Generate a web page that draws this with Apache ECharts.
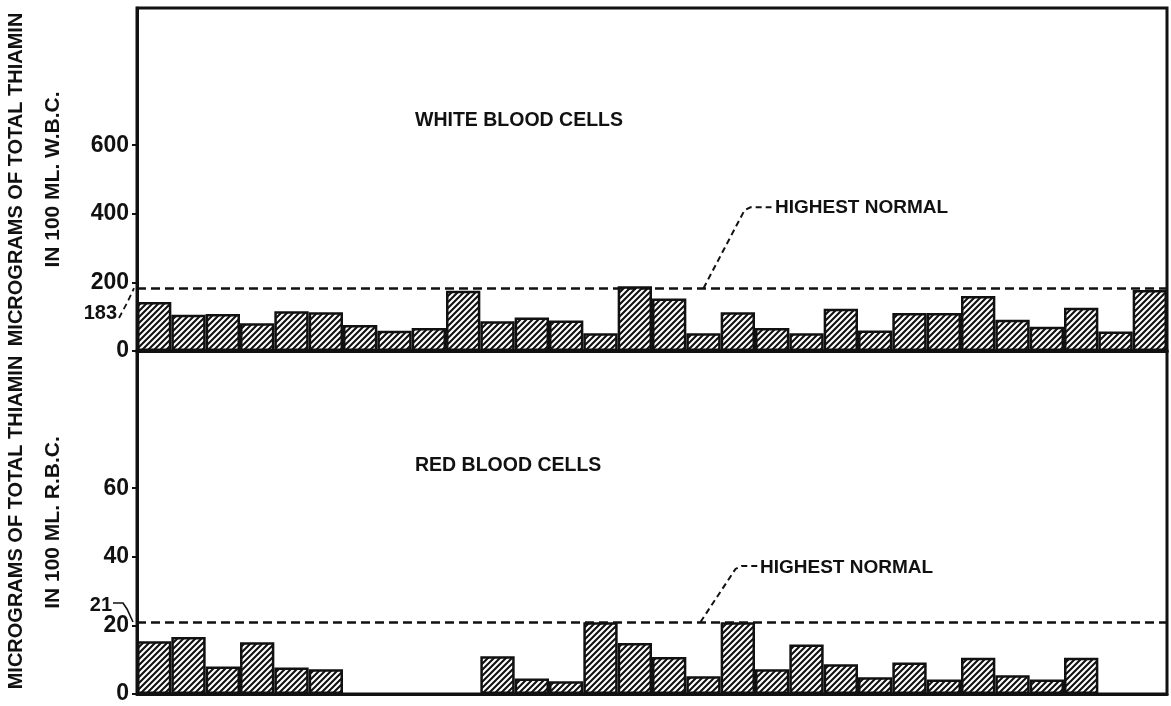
<!DOCTYPE html>
<html>
<head>
<meta charset="utf-8">
<title>Total thiamin in white and red blood cells</title>
<script src="https://cdn.jsdelivr.net/npm/echarts@6/dist/echarts.min.js"></script>
<style>
  html, body { margin: 0; padding: 0; background: #fff; }
  #chart { width: 1171px; height: 706px; }
</style>
</head>
<body>
<div id="chart"></div>
<script>
// one bar per subject, left to right
const subjects = ['1', '2', '3', '4', '5', '6', '7', '8', '9', '10',
  '11', '12', '13', '14', '15', '16', '17', '18', '19', '20',
  '21', '22', '23', '24', '25', '26', '27', '28', '29', '30']

// micrograms of total thiamin in 100 ml W.B.C.
const wbcValues = [143, 106, 108, 81, 116, 113, 76, 59, 67, 176,
  87, 98, 89, 52, 189, 153, 52, 113, 67, 52,
  123, 60, 111, 111, 160, 91, 71, 126, 57, 178]

// micrograms of total thiamin in 100 ml R.B.C. (null = not measured)
const rbcValues = [15.4, 16.6, 8.0, 15.1, 7.7, 7.2, null, null, null, null,
  11.0, 4.5, 3.7, 20.9, 14.9, 10.8, 5.2, 20.9, 7.2, 14.4,
  8.7, 4.9, 9.2, 4.2, 10.6, 5.5, 4.2, 10.6, null, null]

const wbcTicks = [0, 200, 400, 600]
const rbcTicks = [0, 20, 40, 60]
const wbcNormal = 183
const rbcNormal = 21

const ink = '#111'
const font = '"Liberation Sans", Arial, sans-serif'

// diagonal hatching like the printed bars
const hatch = document.createElement('canvas')
hatch.width = 6
hatch.height = 6
const hctx = hatch.getContext('2d')
hctx.fillStyle = '#fff'
hctx.fillRect(0, 0, 6, 6)
hctx.strokeStyle = ink
hctx.lineWidth = 2.1
hctx.beginPath()
hctx.moveTo(0, 6); hctx.lineTo(6, 0)
hctx.moveTo(-3, 3); hctx.lineTo(3, -3)
hctx.moveTo(3, 9); hctx.lineTo(9, 3)
hctx.stroke()

const gridTop = { left: 137, width: 1030, top: 8, height: 343 }
const gridBottom = { left: 137, width: 1030, top: 351, height: 343 }

const xAxisBase = {
  type: 'category',
  data: subjects,
  axisLine: { show: true, lineStyle: { color: ink, width: 3 } },
  axisTick: { show: false },
  axisLabel: { show: false }
}

const yAxisBase = (ticks, max, outer, inner) => ({
  type: 'value',
  min: 0,
  max: max,
  name: '{a|' + outer + '}\n{b|' + inner + '}',
  nameLocation: 'middle',
  nameGap: 65,
  nameTextStyle: {
    rich: {
      a: { fontSize: 20, fontWeight: 'bold', fontFamily: font, color: ink, lineHeight: 37 },
      b: { fontSize: 21, fontWeight: 'bold', fontFamily: font, color: ink, lineHeight: 37 }
    }
  },
  axisLine: { show: true, lineStyle: { color: ink, width: 3 } },
  axisTick: { show: true, length: 5, customValues: ticks, lineStyle: { color: ink, width: 2 } },
  axisLabel: {
    customValues: ticks,
    margin: 8,
    color: ink,
    fontSize: 23,
    fontWeight: 'bold',
    fontFamily: font
  },
  splitLine: { show: false }
})

const barSeries = (values, axisIndex, normal) => ({
  type: 'bar',
  xAxisIndex: axisIndex,
  yAxisIndex: axisIndex,
  data: values,
  barCategoryGap: '0%',
  silent: true,
  itemStyle: {
    color: { image: hatch, repeat: 'repeat' },
    borderColor: ink,
    borderWidth: 2.5
  },
  markLine: {
    silent: true,
    symbol: ['none', 'none'],
    label: { show: false },
    lineStyle: { color: ink, type: [9, 5], width: 2.5 },
    data: [{ yAxis: normal }]
  }
})

const gridStyle = { show: true, borderColor: ink, borderWidth: 3, containLabel: false, outerBoundsMode: 'none' }

const chart = echarts.init(document.getElementById('chart'))
chart.setOption({
  backgroundColor: '#fff',
  animation: false,
  grid: [
    Object.assign({}, gridStyle, gridTop),
    Object.assign({}, gridStyle, gridBottom)
  ],
  xAxis: [
    Object.assign({ gridIndex: 0 }, xAxisBase),
    Object.assign({ gridIndex: 1 }, xAxisBase)
  ],
  yAxis: [
    Object.assign({ gridIndex: 0 }, yAxisBase(wbcTicks, 1000, 'MICROGRAMS OF TOTAL THIAMIN', 'IN 100 ML. W.B.C.')),
    Object.assign({ gridIndex: 1 }, yAxisBase(rbcTicks, 100, 'MICROGRAMS OF TOTAL THIAMIN', 'IN 100 ML. R.B.C.'))
  ],
  series: [
    barSeries(wbcValues, 0, wbcNormal),
    barSeries(rbcValues, 1, rbcNormal)
  ]
})

// annotations anchored on the axes
const yW = chart.convertToPixel({ yAxisIndex: 0 }, wbcNormal)
const yR = chart.convertToPixel({ yAxisIndex: 1 }, rbcNormal)
const xW = chart.convertToPixel({ xAxisIndex: 0 }, subjects[16])
const xR = chart.convertToPixel({ xAxisIndex: 1 }, subjects[16]) - 3

const label = (text, x, y, size, align) => ({
  type: 'text',
  silent: true,
  style: {
    text: text, x: x, y: y,
    align: align || 'left', verticalAlign: 'middle',
    font: 'bold ' + size + 'px ' + font,
    fill: ink
  }
})

const dashed = (points, width) => ({
  type: 'polyline',
  silent: true,
  shape: { points: points },
  style: { stroke: ink, lineWidth: width || 2, lineDash: [6, 4], fill: null }
})

chart.setOption({
  graphic: [
    label('WHITE BLOOD CELLS', 415, 121, 19.5),
    label('RED BLOOD CELLS', 415, 466, 19.5),
    label('HIGHEST NORMAL', 775, 208, 19),
    label('HIGHEST NORMAL', 760, 568, 19),
    dashed([[xW, yW], [xW + 41, yW - 78], [xW + 47, yW - 81], [xW + 68, yW - 81]]),
    dashed([[xR, yR], [xR + 35, yR - 53], [xR + 41, yR - 56], [xR + 57, yR - 56]]),
    label('183', 117, 313, 20, 'right'),
    dashed([[119, 318], [127, 303], [134, yW]], 1.8),
    label('21', 112, 605, 20, 'right'),
    {
      type: 'polyline',
      silent: true,
      shape: { points: [[113, 603], [123, 603], [127, 609], [133, yR]] },
      style: { stroke: ink, lineWidth: 1.6, fill: null }
    }
  ]
})
</script>
</body>
</html>
